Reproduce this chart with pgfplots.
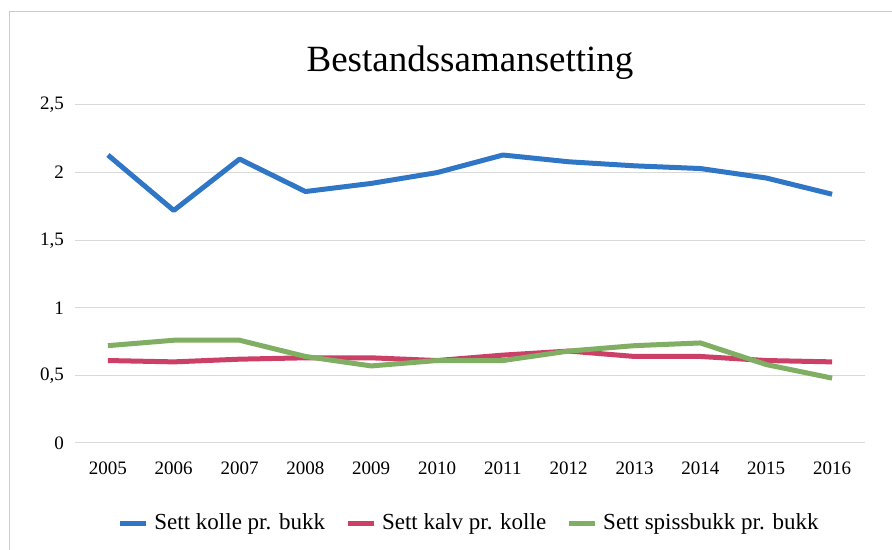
\documentclass[border=0pt]{standalone}
\usepackage{pgfplots}
\pgfplotsset{compat=1.18}
\usepackage{fontspec}
\setmainfont{Liberation Serif}
\definecolor{cblue}{HTML}{2F77C6}
\definecolor{cred}{HTML}{CC4068}
\definecolor{cgreen}{HTML}{80AE62}
\begin{document}
\begin{tikzpicture}
\useasboundingbox (-37.5pt,-53.5pt) rectangle (408.5pt,221.5pt);
\draw[gray!40, line width=0.4pt] (-33pt,-53.5pt) -- (-33pt,216pt) -- (408.5pt,216pt);
\begin{axis}[
    at={(0,0)}, anchor=south west,
    scale only axis,
    width=395pt, height=169pt,
    xmin=2004.5, xmax=2016.5,
    ymin=0, ymax=2.5,
    xtick={2005,...,2016},
    ytick={0,0.5,...,2.5},
    x tick label style={/pgf/number format/1000 sep={}, yshift=-6pt},
    y tick label style={/pgf/number format/use comma, /pgf/number format/fixed, xshift=-2pt},
    /pgf/number format/assume math mode=true,
    tick label style={font=\fontsize{9.5}{11}\selectfont},
    axis line style={draw=none},
    tick style={draw=none},
    ymajorgrids,
    grid style={gray!30, line width=0.5pt},
    title={Bestandssamansetting},
    title style={font=\fontsize{18.5}{22}\selectfont, yshift=3pt},
    legend style={at={(0.5,-0.185)}, anchor=north, draw=none, legend columns=3,
        font=\fontsize{11.5}{13}\selectfont,
        /tikz/every odd column/.append style={column sep=1pt},
        /tikz/every even column/.append style={column sep=8pt}},
    legend image code/.code={\draw[#1, line width=2.5pt] (0pt,0pt) -- (13pt,0pt);},
    every axis plot/.append style={line width=2.5pt, line join=round},
]
\addplot[cblue] coordinates {
    (2005,2.13) (2006,1.72) (2007,2.10) (2008,1.86) (2009,1.92) (2010,2.00)
    (2011,2.13) (2012,2.08) (2013,2.05) (2014,2.03) (2015,1.96) (2016,1.84)
};
\addlegendentry{Sett kolle pr. bukk}
\addplot[cred] coordinates {
    (2005,0.61) (2006,0.60) (2007,0.62) (2008,0.63) (2009,0.63) (2010,0.61)
    (2011,0.65) (2012,0.68) (2013,0.64) (2014,0.64) (2015,0.61) (2016,0.60)
};
\addlegendentry{Sett kalv pr. kolle}
\addplot[cgreen] coordinates {
    (2005,0.72) (2006,0.76) (2007,0.76) (2008,0.64) (2009,0.57) (2010,0.61)
    (2011,0.61) (2012,0.68) (2013,0.72) (2014,0.74) (2015,0.58) (2016,0.48)
};
\addlegendentry{Sett spissbukk pr. bukk}
\end{axis}
\end{tikzpicture}
\end{document}
